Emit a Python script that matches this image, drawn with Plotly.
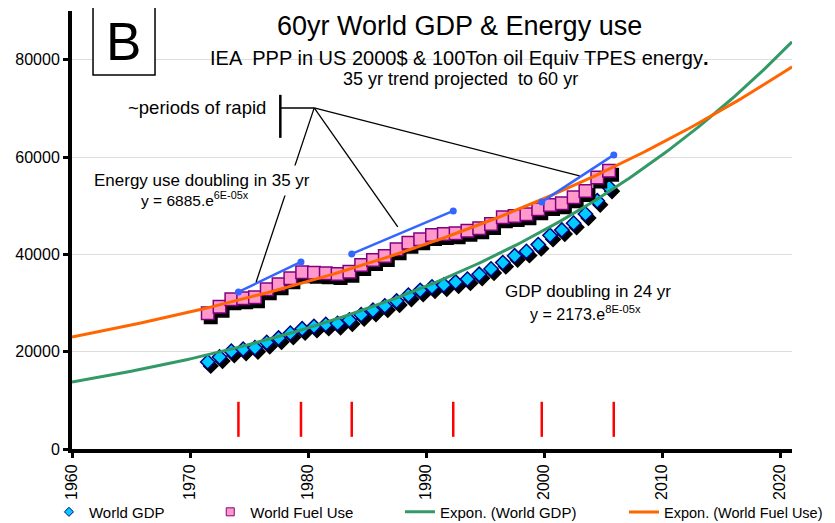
import numpy as np
import plotly.graph_objects as go

# ---------------- data ----------------
years = list(range(1971, 2006))
world_gdp = [17900, 18900, 20100, 20500, 20800, 21900, 22800, 23800, 24700, 25200,
             25600, 25800, 26500, 27600, 28500, 29400, 30400, 31600, 32600, 33300,
             33700, 34300, 34900, 35900, 37000, 38300, 39700, 40600, 42000, 43900,
             45000, 46400, 48300, 51000, 53800]
world_fuel = [27900, 29250, 30770, 30980, 31180, 32830, 33860, 35090, 36320, 36240,
              36120, 35970, 36440, 37820, 38850, 39670, 41050, 42400, 43100, 43990,
              44190, 44340, 44870, 45370, 46250, 47630, 47890, 48240, 49270, 50150,
              50500, 51730, 53030, 55770, 57200]

# exponential trendlines as drawn in the chart: value at 1960 and at 2021
trend_years = [1960, 2021]
gdp_trend_ends = [13770, 83660]
fuel_trend_ends = [23020, 78520]

# periods of rapid energy growth (start / end year and level on energy curve)
period_start_year = [1974.1, 1983.7, 1999.8]
period_end_year = [1979.4, 1992.3, 2005.9]
period_start_val = [32270, 40080, 50770]
period_end_val = [38440, 48920, 60430]
marker_tick_years = [1974.1, 1979.4, 1983.7, 1992.3, 1999.8, 2005.9]
marker_tick_low, marker_tick_high = 2500, 9700

x_ticks = [1960, 1970, 1980, 1990, 2000, 2010, 2020]
y_ticks = [0, 20000, 40000, 60000, 80000]

FONT = "Arial, Liberation Sans, sans-serif"

t = np.array(years) + 0.5  # mid-year dates
gdp = np.array(world_gdp, dtype=float)
fuel = np.array(world_fuel, dtype=float)


def expo_curve(ends):
    t0, t1 = trend_years
    rate = np.log(ends[1] / ends[0]) / (t1 - t0)
    tt = np.linspace(t0, t1, 200)
    return tt, ends[0] * np.exp(rate * (tt - t0))


# shadow offsets (3px right, 4px down)
px_per_year = 720 / 61.0
px_per_unit = 438 / 90000.0
sdx = 3 / px_per_year
sdy = 4 / px_per_unit

fig = go.Figure()

# GDP shadow + markers
fig.add_trace(go.Scatter(x=t + sdx, y=gdp - sdy, mode="markers", showlegend=False,
                         hoverinfo="skip",
                         marker=dict(symbol="diamond", size=11, color="black",
                                     line=dict(color="black", width=1.5))))
fig.add_trace(go.Scatter(x=t, y=gdp, mode="markers", name="World GDP", showlegend=False,
                         marker=dict(symbol="diamond", size=11, color="#00CCFF",
                                     line=dict(color="#000080", width=1.5))))
# Fuel shadow + markers
fig.add_trace(go.Scatter(x=t + sdx, y=fuel - sdy, mode="markers", showlegend=False,
                         hoverinfo="skip",
                         marker=dict(symbol="square", size=12.5, color="black",
                                     line=dict(color="black", width=1.5))))
fig.add_trace(go.Scatter(x=t, y=fuel, mode="markers", name="World Fuel Use", showlegend=False,
                         marker=dict(symbol="square", size=12.5, color="#FF99CC",
                                     line=dict(color="#800080", width=1.5))))

# trendlines
gx, gy = expo_curve(gdp_trend_ends)
fx, fy = expo_curve(fuel_trend_ends)
fig.add_trace(go.Scatter(x=gx, y=gy, mode="lines", showlegend=False,
                         line=dict(color="#339966", width=3)))
fig.add_trace(go.Scatter(x=fx, y=fy, mode="lines", showlegend=False,
                         line=dict(color="#FF6600", width=3)))

# blue period lines
for xs, xe, ys, ye in zip(period_start_year, period_end_year, period_start_val, period_end_val):
    fig.add_trace(go.Scatter(x=[xs, xe], y=[ys, ye], mode="lines+markers", showlegend=False,
                             line=dict(color="#3366FF", width=2.5),
                             marker=dict(size=7, color="#3366FF")))

# legend proxies
fig.add_trace(go.Scatter(x=[None], y=[None], mode="markers", name="World GDP", legend="legend",
                         marker=dict(symbol="diamond", size=7, color="#00CCFF",
                                     line=dict(color="#000080", width=1))))
fig.add_trace(go.Scatter(x=[None], y=[None], mode="markers", name="World Fuel Use", legend="legend2",
                         marker=dict(symbol="square", size=8, color="#FF99CC",
                                     line=dict(color="#800080", width=1))))
fig.add_trace(go.Scatter(x=[None], y=[None], mode="lines", name="Expon. (World GDP)", legend="legend3",
                         line=dict(color="#339966", width=3)))
fig.add_trace(go.Scatter(x=[None], y=[None], mode="lines", name="Expon. (World Fuel Use)", legend="legend4",
                         line=dict(color="#FF6600", width=3)))

shapes = []
# red period ticks
for yr in marker_tick_years:
    shapes.append(dict(type="line", xref="x", yref="y", x0=yr, x1=yr,
                       y0=marker_tick_low, y1=marker_tick_high,
                       line=dict(color="#FF0000", width=2.5)))
# callout lines
J = (1980.52, 70090)
shapes.append(dict(type="line", xref="x", yref="y", x0=1977.65, x1=1977.65, y0=63930, y1=72770,
                   line=dict(color="black", width=2.5)))
shapes.append(dict(type="line", xref="x", yref="y", x0=1977.65, x1=J[0], y0=J[1], y1=J[1],
                   line=dict(color="black", width=1.5)))
for ex, ey in [(1975.6, 34330), (1987.6, 45630), (2003.0, 56120)]:
    shapes.append(dict(type="line", xref="x", yref="y", x0=J[0], y0=J[1], x1=ex, y1=ey,
                       line=dict(color="black", width=1.3)))
# "B" box
shapes.append(dict(type="rect", xref="paper", yref="paper", x0=0.0292, x1=0.1153,
                   y0=0.854, y1=1.009, line=dict(color="black", width=1.5),
                   fillcolor="white"))

ann = []


def A(text, x, y, size, **kw):
    d = dict(text=text, x=x, y=y, xref="paper", yref="paper", showarrow=False,
             font=dict(family=FONT, size=size, color="black"), xanchor="center",
             yanchor="middle")
    d.update(kw)
    ann.append(d)


A("B", 0.0722, 0.930, 53)
A("60yr World GDP & Energy use", 0.5375, 0.966, 27)
A("IEA  PPP in US 2000$ & 100Ton oil Equiv TPES energy<b>.</b>", 0.5375, 0.893, 20)
A("35 yr trend projected  to 60 yr", 0.539, 0.845, 18)
A("~periods of rapid", 0.174, 0.779, 18.5)
A("Energy use doubling in 35 yr", 0.1806, 0.612, 17, bgcolor="white", borderpad=5)
A("y = 6885.e<sup>6E-05x</sup>", 0.171, 0.570, 15.5)
A("GDP doubling in 24 yr", 0.7167, 0.3607, 17)
A("y = 2173.e<sup>8E-05x</sup>", 0.7125, 0.3105, 16)

leg_common = dict(orientation="h", yanchor="middle", y=-0.144, xanchor="left",
                  bgcolor="rgba(0,0,0,0)", borderwidth=0)
leg_font = dict(family=FONT, size=15, color="black")
# page body has an 8px margin: figure is 8px smaller and margins compensate
fig.update_layout(
    width=827, height=515,
    margin=dict(l=64, r=43, t=3, b=74, pad=0, autoexpand=False),
    plot_bgcolor="white", paper_bgcolor="white",
    font=dict(family=FONT, size=15, color="black"),
    xaxis=dict(range=[1960, 2021], tickvals=x_ticks, tickangle=-90, showgrid=False,
               zeroline=False, showline=True, linewidth=4, linecolor="black",
               ticks="outside", ticklen=5, tickwidth=3, tickcolor="black",
               automargin=False,
               tickfont=dict(family=FONT, size=16, color="black")),
    yaxis=dict(range=[0, 90000], tickvals=y_ticks, tickformat="d", showgrid=True,
               gridcolor="#DDDDDD", gridwidth=1, zeroline=False, showline=True,
               linewidth=4, linecolor="black", ticks="outside", ticklen=5, tickwidth=3,
               automargin=False,
               tickcolor="black", tickfont=dict(family=FONT, size=16, color="black")),
    shapes=shapes, annotations=ann,
    legend=dict(x=-0.032, font=leg_font, **leg_common),
    legend2=dict(x=0.192, font=leg_font, **leg_common),
    legend3=dict(x=0.4555, font=leg_font, **leg_common),
    legend4=dict(x=0.7667, font=dict(family=FONT, size=14.5, color="black"), **leg_common),
)

fig.write_html("out.html")
